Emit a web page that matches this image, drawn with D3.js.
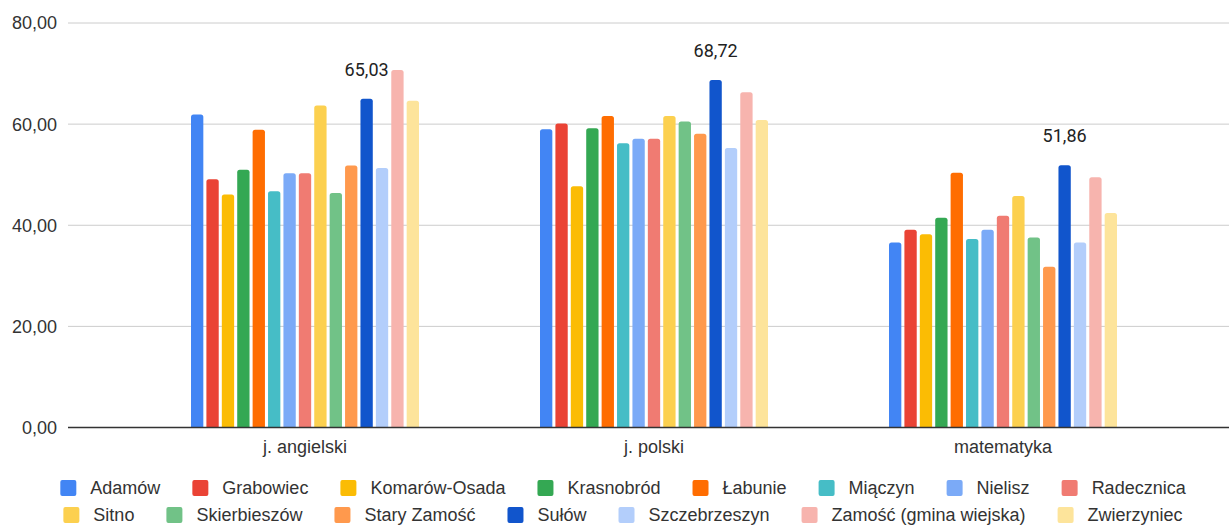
<!DOCTYPE html>
<html>
<head>
<meta charset="utf-8">
<script src="https://cdn.jsdelivr.net/npm/d3@7"></script>
<style>
  body { margin: 0; background: #fff; }
  text { font-family: Arial, "Liberation Sans", sans-serif; }
</style>
</head>
<body>
<script>
var w = 1229,
    h = 525;

// subjects on the x axis
const categories = ["j. angielski", "j. polski", "matematyka"];

// one series per gmina
const seriesNames = ["Adamów", "Grabowiec", "Komarów-Osada", "Krasnobród", "Łabunie",
    "Miączyn", "Nielisz", "Radecznica", "Sitno", "Skierbieszów", "Stary Zamość",
    "Sułów", "Szczebrzeszyn", "Zamość (gmina wiejska)", "Zwierzyniec"];

const seriesColors = ["#4285f4", "#ea4335", "#fbbc04", "#34a853", "#ff6d01",
    "#46bdc6", "#7baaf7", "#f07b72", "#fcd04f", "#71c287", "#ff994d",
    "#1155cc", "#b3cefb", "#f7b4ae", "#fde49b"];

// values per subject, in seriesNames order
const angielski = [61.9, 49.1, 46.1, 51.0, 58.9, 46.7, 50.3, 50.3, 63.7, 46.4, 51.8, 65.03, 51.3, 70.7, 64.6];
const polski    = [59.0, 60.1, 47.7, 59.2, 61.6, 56.2, 57.1, 57.1, 61.6, 60.5, 58.1, 68.72, 55.3, 66.3, 60.8];
const matma     = [36.6, 39.1, 38.2, 41.5, 50.4, 37.3, 39.1, 41.9, 45.8, 37.6, 31.8, 51.86, 36.6, 49.5, 42.4];

const yTicks = [0, 20, 40, 60, 80];
const labelledSeries = "Sułów";

const valuesByCategory = [angielski, polski, matma];

const fmt = (v) => v.toFixed(2).replace(".", ",");

var svg = d3.select("body").append("svg")
    .attr("width", w)
    .attr("height", h);

const plotLeft = 68,
      plotRight = w,
      groupWidth = 228,
      fontSize = 18;

const y = d3.scaleLinear().domain([0, 80]).range([427.5, 23]);

const x0 = d3.scaleBand().domain(categories).range([130.5, 1177.5]);
const x1 = d3.scaleBand().domain(seriesNames).range([0, groupWidth]).paddingInner(0.2);
const groupOffset = (x0.bandwidth() - groupWidth) / 2;

// gridlines + tick labels
const grid = svg.append("g");
grid.selectAll("line")
    .data(yTicks.filter(t => t > 0))
    .enter().append("line")
    .attr("x1", plotLeft)
    .attr("x2", plotRight)
    .attr("y1", d => y(d))
    .attr("y2", d => y(d))
    .attr("stroke", "#cccccc")
    .attr("stroke-width", 1);

grid.selectAll("text")
    .data(yTicks)
    .enter().append("text")
    .attr("x", 57)
    .attr("y", d => y(d))
    .attr("dy", "0.36em")
    .attr("text-anchor", "end")
    .attr("font-size", fontSize)
    .attr("fill", "#333")
    .text(fmt);

// bars, rounded on top
const barPath = (bx, by, bw, bh) => {
    const r = Math.min(2.5, bh / 2);
    return "M" + bx + "," + (by + bh) +
        "V" + (by + r) +
        "Q" + bx + "," + by + " " + (bx + r) + "," + by +
        "H" + (bx + bw - r) +
        "Q" + (bx + bw) + "," + by + " " + (bx + bw) + "," + (by + r) +
        "V" + (by + bh) + "Z";
};

const groups = svg.selectAll("g.group")
    .data(categories)
    .enter().append("g")
    .attr("class", "group")
    .attr("transform", d => "translate(" + (x0(d) + groupOffset) + ",0)");

groups.selectAll("path")
    .data((c, i) => seriesNames.map((name, j) => ({ name: name, value: valuesByCategory[i][j], color: seriesColors[j] })))
    .enter().append("path")
    .attr("d", d => barPath(x1(d.name), y(d.value), x1.bandwidth(), y(0) - y(d.value)))
    .attr("fill", d => d.color);

// data labels, only for one series
groups.selectAll("text.lbl")
    .data((c, i) => [{ name: labelledSeries, value: valuesByCategory[i][seriesNames.indexOf(labelledSeries)] }])
    .enter().append("text")
    .attr("class", "lbl")
    .attr("x", d => x1(d.name) + x1.bandwidth() / 2)
    .attr("y", d => y(d.value) - 23)
    .attr("text-anchor", "middle")
    .attr("font-size", fontSize)
    .attr("fill", "#222")
    .style("font-family", "Roboto, Arial, sans-serif")
    .text(d => fmt(d.value));

// baseline
svg.append("line")
    .attr("x1", plotLeft)
    .attr("x2", plotRight)
    .attr("y1", y(0))
    .attr("y2", y(0))
    .attr("stroke", "#333")
    .attr("stroke-width", 1.5);

// category labels
svg.selectAll("text.cat")
    .data(categories)
    .enter().append("text")
    .attr("class", "cat")
    .attr("x", d => x0(d) + x0.bandwidth() / 2)
    .attr("y", 453)
    .attr("text-anchor", "middle")
    .attr("font-size", fontSize)
    .attr("fill", "#333")
    .text(d => d);

// legend, two centered rows
const legendRows = [seriesNames.slice(0, 8), seriesNames.slice(8)];
const rowY = [488, 515];
const legendCenter = 623,
      swatch = 16,
      swatchGap = 14,
      itemGap = 32;

legendRows.forEach((row, ri) => {
    const g = svg.append("g");
    const items = row.map(name => {
        const item = g.append("g");
        item.append("rect")
            .attr("width", swatch)
            .attr("height", swatch)
            .attr("y", rowY[ri] - swatch / 2)
            .attr("rx", 2)
            .attr("fill", seriesColors[seriesNames.indexOf(name)]);
        const t = item.append("text")
            .attr("x", swatch + swatchGap)
            .attr("y", rowY[ri])
            .attr("dy", "0.36em")
            .attr("font-size", fontSize)
            .attr("fill", "#333")
            .text(name);
        return { item: item, width: swatch + swatchGap + t.node().getComputedTextLength() };
    });
    const total = d3.sum(items, d => d.width) + itemGap * (items.length - 1);
    let cx = legendCenter - total / 2;
    items.forEach(d => {
        d.item.attr("transform", "translate(" + cx + ",0)");
        cx += d.width + itemGap;
    });
});
</script>
</body>
</html>
